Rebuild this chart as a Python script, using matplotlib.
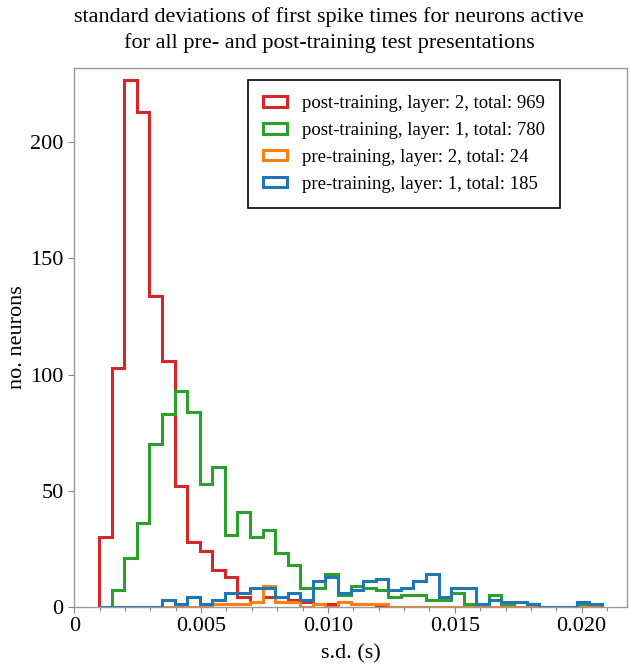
import numpy as np
import matplotlib
matplotlib.use("Agg")
import matplotlib.pyplot as plt
from matplotlib.patches import Patch

# histogram bins (s.d. in seconds), 40 bins
bin_lo = 0.00098
bin_hi = 0.0208
n_bins = 40

# counts per bin
post_l2 = [30, 103, 227, 213, 134, 106, 52, 28, 24, 16, 13, 4, 2, 4, 2, 3, 2, 1, 1, 2,
           1, 1, 0, 0, 0, 0, 0, 0, 0, 0, 0, 0, 0, 0, 0, 0, 0, 0, 0, 0]
post_l1 = [0, 7, 21, 36, 70, 83, 93, 84, 53, 60, 31, 41, 30, 33, 23, 18, 8, 8, 14, 5,
           9, 8, 7, 4, 5, 5, 3, 3, 6, 1, 1, 5, 1, 2, 1, 0, 0, 0, 1, 0]
pre_l2 = [0, 0, 0, 0, 0, 0, 0, 0, 0, 1, 1, 1, 2, 9, 2, 2, 0, 1, 0, 2,
          1, 1, 1, 0, 0, 0, 0, 0, 0, 0, 0, 0, 0, 0, 0, 0, 0, 0, 0, 0]
pre_l1 = [0, 0, 0, 0, 0, 3, 1, 4, 1, 3, 6, 6, 8, 8, 4, 6, 3, 11, 13, 6,
          7, 11, 12, 7, 8, 11, 14, 4, 8, 8, 1, 3, 2, 2, 1, 0, 0, 0, 2, 1]

labels = [
    "post-training, layer: 2, total: 969",
    "post-training, layer: 1, total: 780",
    "pre-training, layer: 2, total: 24",
    "pre-training, layer: 1, total: 185",
]
colors = ["#d62728", "#2ca02c", "#ff7f0e", "#1f77b4"]

plt.rcParams["font.family"] = ["Liberation Serif", "DejaVu Serif"]

edges = np.linspace(bin_lo, bin_hi, n_bins + 1)

fig = plt.figure(figsize=(6.3, 6.67), dpi=100)
ax = fig.add_axes([0.1175, 0.0904, 0.8778, 0.8076])

handles = []
for counts, lab, col in zip([post_l2, post_l1, pre_l2, pre_l1], labels, colors):
    ax.stairs(counts, edges, color=col, lw=2.2)
    handles.append(Patch(facecolor="none", edgecolor=col, lw=2.2, label=lab))

ax.set_xlim(-0.00001, 0.02179)
ax.set_ylim(0, 232)
ax.set_xticks([0, 0.005, 0.010, 0.015, 0.020])
ax.set_xticklabels(["0", "0.005", "0.010", "0.015", "0.020"])
ax.set_xticks(np.arange(0.001, 0.0215, 0.001), minor=True)
ax.set_yticks([0, 50, 100, 150, 200])
ax.tick_params(axis="both", labelsize=16, length=4, width=0.8, color="#888888")
ax.tick_params(axis="x", which="minor", length=3, width=0.8, color="#888888")
for sp in ax.spines.values():
    sp.set_color("#999999")
    sp.set_linewidth(1.0)

ax.set_xlabel("s.d. (s)", fontsize=16, labelpad=6)
ax.set_ylabel("no. neurons", fontsize=16, labelpad=2)

fig.text(329 / 630, 1 - 22 / 667,
         "standard deviations of first spike times for neurons active",
         ha="center", va="baseline", fontsize=16)
fig.text(329 / 630, 1 - 48 / 667,
         "for all pre- and post-training test presentations",
         ha="center", va="baseline", fontsize=16)

leg = ax.legend(handles=handles, loc="upper right", bbox_to_anchor=(0.879, 0.978),
                borderaxespad=0, fontsize=13.5, fancybox=False, edgecolor="black",
                framealpha=1, handlelength=1.3, handleheight=0.5, handletextpad=0.8,
                borderpad=0.8, labelspacing=0.53)
leg.get_frame().set_linewidth(1.2)

fig.savefig("out.png", dpi=100)
